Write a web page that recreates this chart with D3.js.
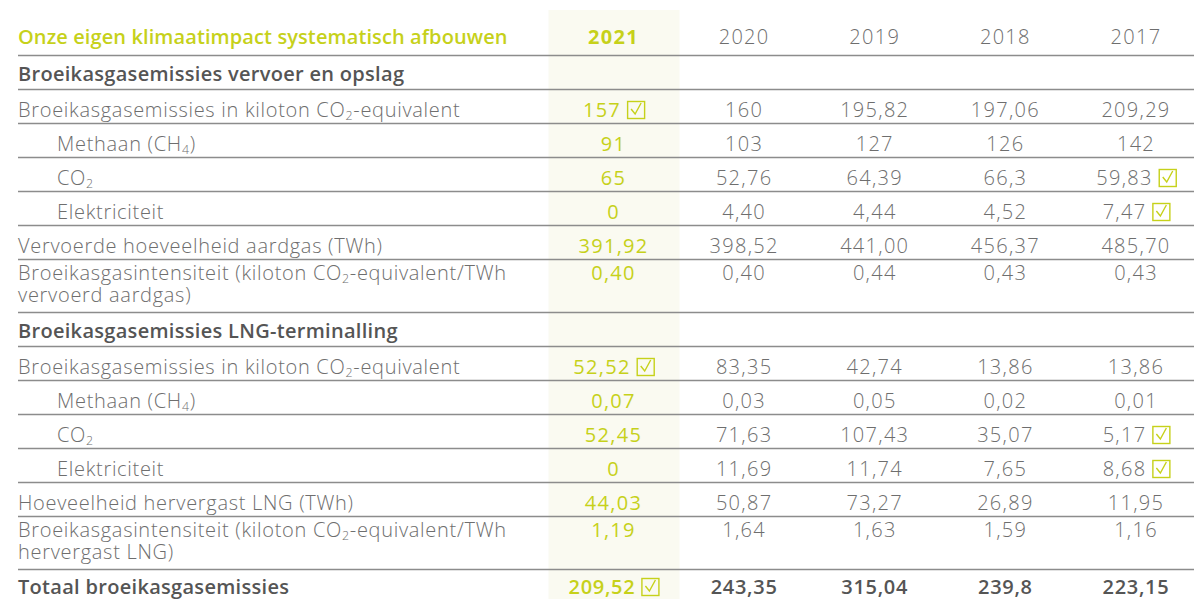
<!DOCTYPE html>
<html>
<head>
<meta charset="utf-8">
<script src="https://cdn.jsdelivr.net/npm/d3@7"></script>
<style>
  html, body { margin: 0; padding: 0; background: #fff; }
  svg { display: block; font-family: "Open Sans", "Noto Sans", sans-serif; }
</style>
</head>
<body>
<div id="table"></div>
<script>
// Table content
const title = "Onze eigen klimaatimpact systematisch afbouwen";
const years = ["2021", "2020", "2019", "2018", "2017"];

// kind: section | item | sub | double | total ; "_n" marks a subscript digit
const rowKinds = ["section", "item", "sub", "sub", "sub", "item", "double",
                  "section", "item", "sub", "sub", "sub", "item", "double", "total"];
const rowLabels = [
  ["Broeikasgasemissies vervoer en opslag"],
  ["Broeikasgasemissies in kiloton CO_2-equivalent"],
  ["Methaan (CH_4)"],
  ["CO_2"],
  ["Elektriciteit"],
  ["Vervoerde hoeveelheid aardgas (TWh)"],
  ["Broeikasgasintensiteit (kiloton CO_2-equivalent/TWh", "vervoerd aardgas)"],
  ["Broeikasgasemissies LNG-terminalling"],
  ["Broeikasgasemissies in kiloton CO_2-equivalent"],
  ["Methaan (CH_4)"],
  ["CO_2"],
  ["Elektriciteit"],
  ["Hoeveelheid hervergast LNG (TWh)"],
  ["Broeikasgasintensiteit (kiloton CO_2-equivalent/TWh", "hervergast LNG)"],
  ["Totaal broeikasgasemissies"]
];

const values2021 = [null, "157", "91", "65", "0", "391,92", "0,40", null, "52,52", "0,07", "52,45", "0", "44,03", "1,19", "209,52"];
const values2020 = [null, "160", "103", "52,76", "4,40", "398,52", "0,40", null, "83,35", "0,03", "71,63", "11,69", "50,87", "1,64", "243,35"];
const values2019 = [null, "195,82", "127", "64,39", "4,44", "441,00", "0,44", null, "42,74", "0,05", "107,43", "11,74", "73,27", "1,63", "315,04"];
const values2018 = [null, "197,06", "126", "66,3", "4,52", "456,37", "0,43", null, "13,86", "0,02", "35,07", "7,65", "26,89", "1,59", "239,8"];
const values2017 = [null, "209,29", "142", "59,83", "7,47", "485,70", "0,43", null, "13,86", "0,01", "5,17", "8,68", "11,95", "1,16", "223,15"];

// verified values (checkbox), row indexes per year column
const checked2021 = [1, 8, 14];
const checked2017 = [3, 4, 10, 11];

const columns = [
  { year: "2021", values: values2021, checked: checked2021 },
  { year: "2020", values: values2020, checked: [] },
  { year: "2019", values: values2019, checked: [] },
  { year: "2018", values: values2018, checked: [] },
  { year: "2017", values: values2017, checked: checked2017 }
];

const width = 1194, height = 599;
const lime = "#c6d11a";
const grey = "#6e6e6e";
const dark = "#555555";
const ruleColor = "#8c8c8c";
const fontSize = 20;
const lightSpacing = 0.7, boldSpacing = 0.3, numSpacing = 1.3;

const svg = d3.select("#table").append("svg")
  .attr("width", width)
  .attr("height", height);

// column centres
const x = d3.scalePoint()
  .domain(years)
  .range([613.5, 1136]);
const colW = 131;

// row tops from heights
const rowHeight = k => k === "double" ? 53 : 34;
const headerBottom = 55;
const rowTops = [];
let acc = headerBottom;
rowKinds.forEach(k => { rowTops.push(acc); acc += rowHeight(k); });

// highlighted 2021 column
svg.append("rect")
  .attr("x", x("2021") - colW / 2 + 0.5)
  .attr("y", 10)
  .attr("width", colW)
  .attr("height", height - 10)
  .attr("fill", "#fafaf1");

// rules
const rules = [headerBottom].concat(rowTops.slice(1));
svg.append("g").selectAll("line")
  .data(rules)
  .join("line")
  .attr("x1", 18)
  .attr("x2", width)
  .attr("y1", d => Math.round(d) + 0.5)
  .attr("y2", d => Math.round(d) + 0.5)
  .attr("stroke", ruleColor)
  .attr("stroke-width", 1.3);

// text with subscripts written as _n; each new line restarts at x0
function addLabel(sel, lines, x0) {
  lines.forEach((str, li) => {
    const parts = str.split(/_(\d)/);
    let shift = li === 0 ? 0 : 22;
    let first = li > 0;
    parts.forEach((p, i) => {
      if (!p) return;
      const ts = sel.append("tspan");
      if (first) { ts.attr("x", x0); first = false; }
      if (i % 2 === 1) {
        ts.attr("font-size", fontSize * 0.62).attr("dy", shift + 3).text(p);
        shift = -3;
      } else {
        ts.attr("dy", shift).text(p);
        shift = 0;
      }
    });
  });
}

// header
svg.append("text")
  .attr("x", 18)
  .attr("y", 44)
  .attr("font-size", fontSize)
  .attr("font-weight", 600)
  .attr("letter-spacing", 0.1)
  .attr("fill", lime)
  .text(title);

svg.append("g").selectAll("text")
  .data(years)
  .join("text")
  .attr("x", d => x(d))
  .attr("y", 44)
  .attr("text-anchor", "middle")
  .attr("font-size", fontSize)
  .attr("font-weight", (d, i) => i === 0 ? 700 : 300)
  .attr("letter-spacing", numSpacing)
  .attr("fill", (d, i) => i === 0 ? lime : grey)
  .text(d => d);

// row baselines
const labelBase = (k, top) => {
  if (k === "section") return top + 26;
  if (k === "double") return top + 21;
  if (k === "total") return top + 25;
  return top + 28;
};

rowLabels.forEach((lines, r) => {
  const k = rowKinds[r];
  const bold = k === "section" || k === "total";
  const x0 = k === "sub" ? 57 : 18;
  const t = svg.append("text")
    .attr("x", x0)
    .attr("y", labelBase(k, rowTops[r]))
    .attr("font-size", fontSize)
    .attr("font-weight", bold ? 600 : 300)
    .attr("letter-spacing", bold ? boldSpacing : lightSpacing)
    .attr("fill", bold ? dark : grey);
  addLabel(t, lines, x0);
});

// values
columns.forEach((col, c) => {
  col.values.forEach((v, r) => {
    if (v === null) return;
    const k = rowKinds[r];
    const cx = x(col.year);
    const y = labelBase(k, rowTops[r]);
    const is2021 = c === 0;
    const t = svg.append("text")
      .attr("y", y)
      .attr("font-size", fontSize)
      .attr("font-weight", k === "total" ? 600 : (is2021 ? 400 : 300))
      .attr("letter-spacing", k === "total" ? 0.7 : numSpacing)
      .attr("fill", is2021 ? lime : (k === "total" ? dark : grey))
      .text(v);
    if (!col.checked.includes(r)) {
      t.attr("x", cx).attr("text-anchor", "middle");
      return;
    }
    const tw = t.node().getComputedTextLength();
    const box = 17, gap = 6;
    const x0 = cx - (tw + gap + box) / 2;
    t.attr("x", x0);
    const bx = x0 + tw + gap, by = y - 16;
    svg.append("rect")
      .attr("x", bx + 0.5).attr("y", by + 0.5)
      .attr("width", box).attr("height", box)
      .attr("fill", "none")
      .attr("stroke", lime)
      .attr("stroke-width", 1.4);
    svg.append("path")
      .attr("d", d3.line()([[bx + 4, by + 8], [bx + 8, by + 13], [bx + 14, by + 2]]))
      .attr("fill", "none")
      .attr("stroke", lime)
      .attr("stroke-width", 1.4);
  });
});
</script>
</body>
</html>
